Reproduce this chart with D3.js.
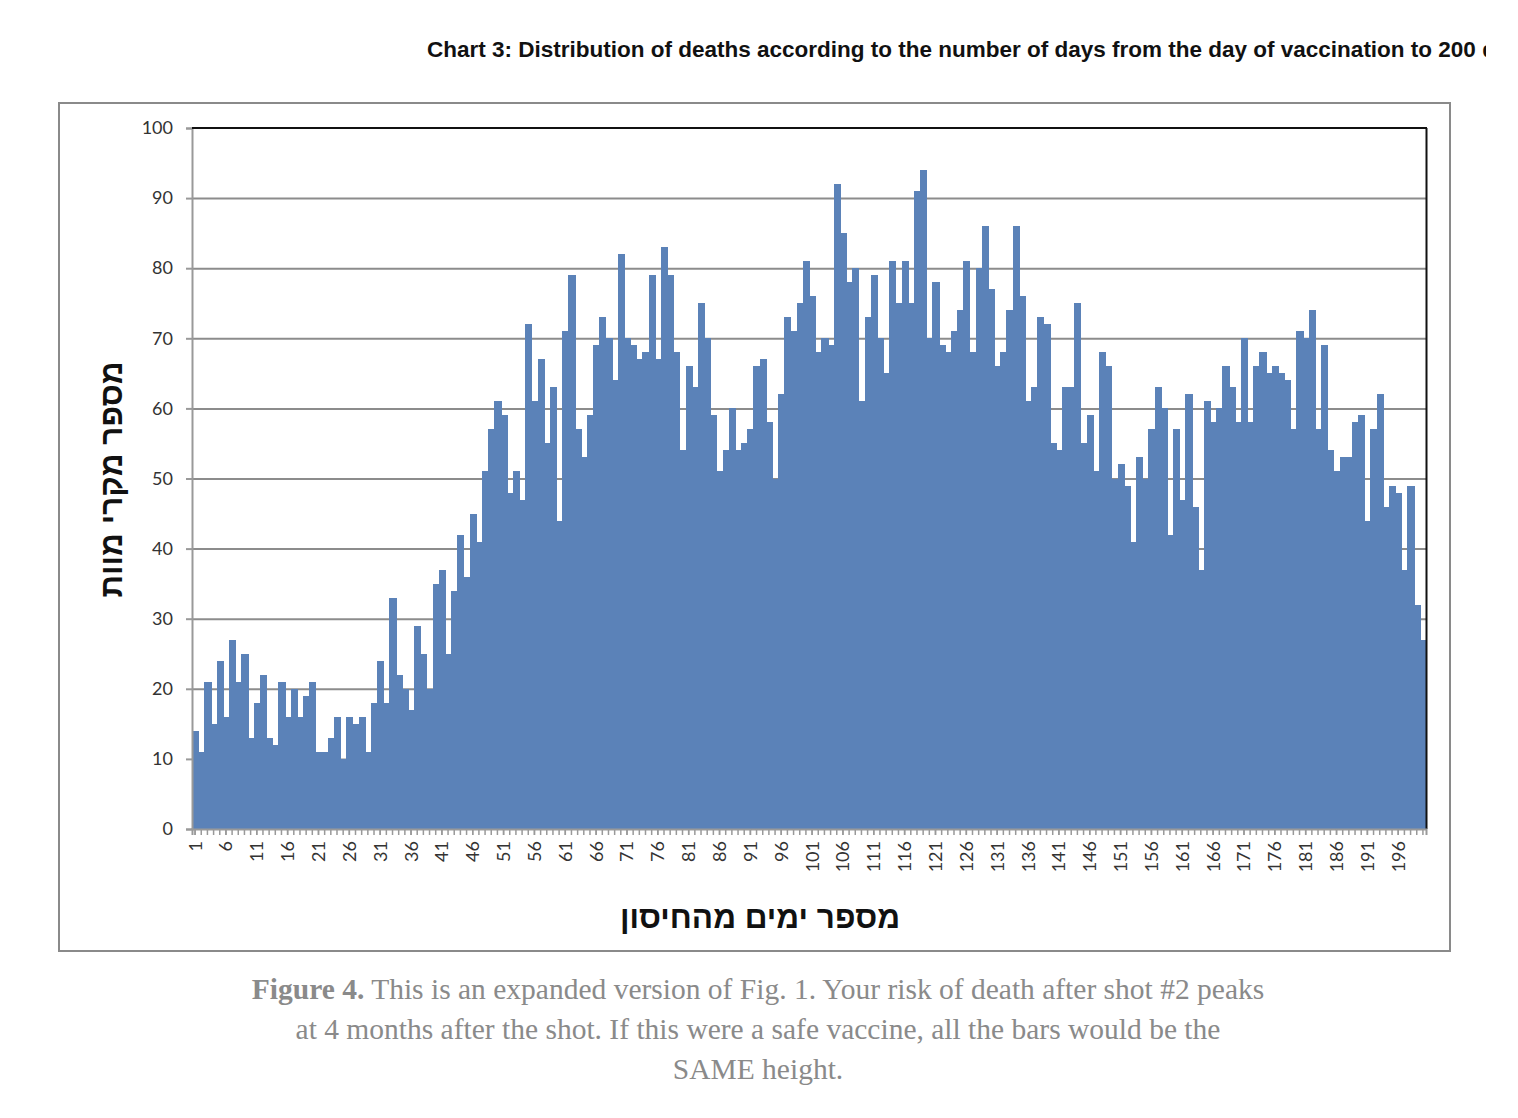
<!DOCTYPE html>
<html>
<head>
<meta charset="utf-8">
<script src="https://cdn.jsdelivr.net/npm/d3@7"></script>
<style>
  html, body { margin: 0; padding: 0; background: #ffffff; }
  svg { display: block; }
</style>
</head>
<body>
<svg id="chart" width="1518" height="1118"></svg>
<script>
// ---- data ----
const titleText = "Chart 3: Distribution of deaths according to the number of days from the day of vaccination to 200 days";
const yTitle = "מספר מקרי מוות";
const xTitle = "מספר ימים מהחיסון";
const days = d3.range(1, 201);
const deaths = [
  14, 11, 21, 15, 24, 16, 27, 21, 25, 13,
  18, 22, 13, 12, 21, 16, 20, 16, 19, 21,
  11, 11, 13, 16, 10, 16, 15, 16, 11, 18,
  24, 18, 33, 22, 20, 17, 29, 25, 20, 35,
  37, 25, 34, 42, 36, 45, 41, 51, 57, 61,
  59, 48, 51, 47, 72, 61, 67, 55, 63, 44,
  71, 79, 57, 53, 59, 69, 73, 70, 64, 82,
  70, 69, 67, 68, 79, 67, 83, 79, 68, 54,
  66, 63, 75, 70, 59, 51, 54, 60, 54, 55,
  57, 66, 67, 58, 50, 62, 73, 71, 75, 81,
  76, 68, 70, 69, 92, 85, 78, 80, 61, 73,
  79, 70, 65, 81, 75, 81, 75, 91, 94, 70,
  78, 69, 68, 71, 74, 81, 68, 80, 86, 77,
  66, 68, 74, 86, 76, 61, 63, 73, 72, 55,
  54, 63, 63, 75, 55, 59, 51, 68, 66, 50,
  52, 49, 41, 53, 50, 57, 63, 60, 42, 57,
  47, 62, 46, 37, 61, 58, 60, 66, 63, 58,
  70, 58, 66, 68, 65, 66, 65, 64, 57, 71,
  70, 74, 57, 69, 54, 51, 53, 53, 58, 59,
  44, 57, 62, 46, 49, 48, 37, 49, 32, 27
];
const yTicks = [0, 10, 20, 30, 40, 50, 60, 70, 80, 90, 100];
const xTickLabels = d3.range(1, 200, 5);
const captionLines = [
  ["Figure 4.", " This is an expanded version of Fig. 1. Your risk of death after shot #2 peaks"],
  ["", "at 4 months after the shot. If this were a safe vaccine, all the bars would be the"],
  ["", "SAME height."]
];

// ---- drawing ----
const svg = d3.select("#chart");
const plot = { left: 192, right: 1426, top: 128, bottom: 829 };
const barColor = "#5b82b8";
const gridColor = "#8c8c8c";

// title (cropped at the right edge)
svg.append("defs").append("clipPath").attr("id", "titleClip")
  .append("rect").attr("x", 0).attr("y", 0).attr("width", 1486).attr("height", 90);
svg.append("text")
  .attr("clip-path", "url(#titleClip)")
  .attr("x", 427).attr("y", 57)
  .attr("font-family", "Liberation Sans, Arial, sans-serif")
  .attr("font-weight", "bold")
  .attr("font-size", 22.5)
  .attr("fill", "#111")
  .text(titleText);

// outer frame
svg.append("rect")
  .attr("x", 59).attr("y", 103).attr("width", 1391).attr("height", 848)
  .attr("fill", "none").attr("stroke", "#8a8a8a").attr("stroke-width", 2);

const x = d3.scaleBand().domain(days).range([plot.left, plot.right]).padding(0);
const y = d3.scaleLinear().domain([0, 100]).range([plot.bottom, plot.top]);

// gridlines
const grid = svg.append("g")
  .attr("transform", `translate(${plot.left},0)`)
  .call(d3.axisLeft(y).tickValues(yTicks.filter(v => v > 0 && v < 100))
    .tickSize(-(plot.right - plot.left)).tickFormat(""));
grid.select(".domain").remove();
grid.selectAll("line").attr("stroke", gridColor).attr("stroke-width", 2);

// bars
svg.append("g")
  .attr("shape-rendering", "crispEdges")
  .selectAll("rect")
  .data(days)
  .join("rect")
  .attr("x", d => x(d))
  .attr("width", x.bandwidth() + 1)
  .attr("y", (d, i) => y(deaths[i]))
  .attr("height", (d, i) => y(0) - y(deaths[i]))
  .attr("fill", barColor);

// y axis
const yAxis = svg.append("g")
  .attr("transform", `translate(${plot.left},0)`)
  .call(d3.axisLeft(y).tickValues(yTicks).tickSize(6).tickPadding(13));
yAxis.select(".domain").attr("stroke", "#999").attr("stroke-width", 2);
yAxis.selectAll("line").attr("stroke", "#999").attr("stroke-width", 2);
yAxis.selectAll("text")
  .attr("font-family", "Lato, 'Open Sans', sans-serif")
  .attr("font-size", 18)
  .attr("fill", "#333");

// plot border top & right (black)
svg.append("line")
  .attr("x1", plot.left).attr("x2", plot.right + 1)
  .attr("y1", y(100)).attr("y2", y(100))
  .attr("stroke", "#111").attr("stroke-width", 2);
svg.append("line")
  .attr("x1", plot.right + 0.5).attr("x2", plot.right + 0.5)
  .attr("y1", y(100)).attr("y2", y(0))
  .attr("stroke", "#111").attr("stroke-width", 2);

// x axis minor ticks (every day)
const xMinor = svg.append("g")
  .attr("transform", `translate(0,${plot.bottom})`)
  .call(d3.axisBottom(x).tickValues(days).tickSize(6).tickFormat(""));
xMinor.select(".domain").attr("stroke", "#999").attr("stroke-width", 2);
xMinor.selectAll("line").attr("stroke", "#999").attr("stroke-width", 1.5);

// x axis labels
const xLab = svg.append("g")
  .attr("transform", `translate(0,${plot.bottom})`)
  .call(d3.axisBottom(x).tickValues(xTickLabels).tickSize(6));
xLab.select(".domain").remove();
xLab.selectAll("line").attr("stroke", "#999").attr("stroke-width", 1.5);
xLab.selectAll("text")
  .attr("font-family", "Lato, 'Open Sans', sans-serif")
  .attr("font-size", 18)
  .attr("fill", "#333")
  .attr("transform", "rotate(-90)")
  .attr("text-anchor", "end")
  .attr("x", -12)
  .attr("y", 0)
  .attr("dy", "0.36em");

// axis titles
svg.append("text")
  .attr("transform", `translate(122,${(plot.top + plot.bottom) / 2 + 1}) rotate(-90)`)
  .attr("text-anchor", "middle")
  .attr("font-family", "Liberation Sans, Arial, sans-serif")
  .attr("font-weight", "bold")
  .attr("font-size", 31.5)
  .attr("fill", "#111")
  .text(yTitle);

svg.append("text")
  .attr("x", 760).attr("y", 928)
  .attr("text-anchor", "middle")
  .attr("font-family", "Liberation Sans, Arial, sans-serif")
  .attr("font-weight", "bold")
  .attr("font-size", 31.5)
  .attr("fill", "#111")
  .text(xTitle);

// caption
const cap = svg.append("g")
  .attr("font-family", "Liberation Serif, 'DejaVu Serif', serif")
  .attr("font-size", 29.5)
  .attr("fill", "#8a8a8a");
captionLines.forEach((ln, i) => {
  const t = cap.append("text")
    .attr("x", 758).attr("y", 999 + i * 40)
    .attr("text-anchor", "middle");
  if (ln[0]) t.append("tspan").attr("font-weight", "bold").text(ln[0]);
  t.append("tspan").text(ln[1]);
});
</script>
</body>
</html>
